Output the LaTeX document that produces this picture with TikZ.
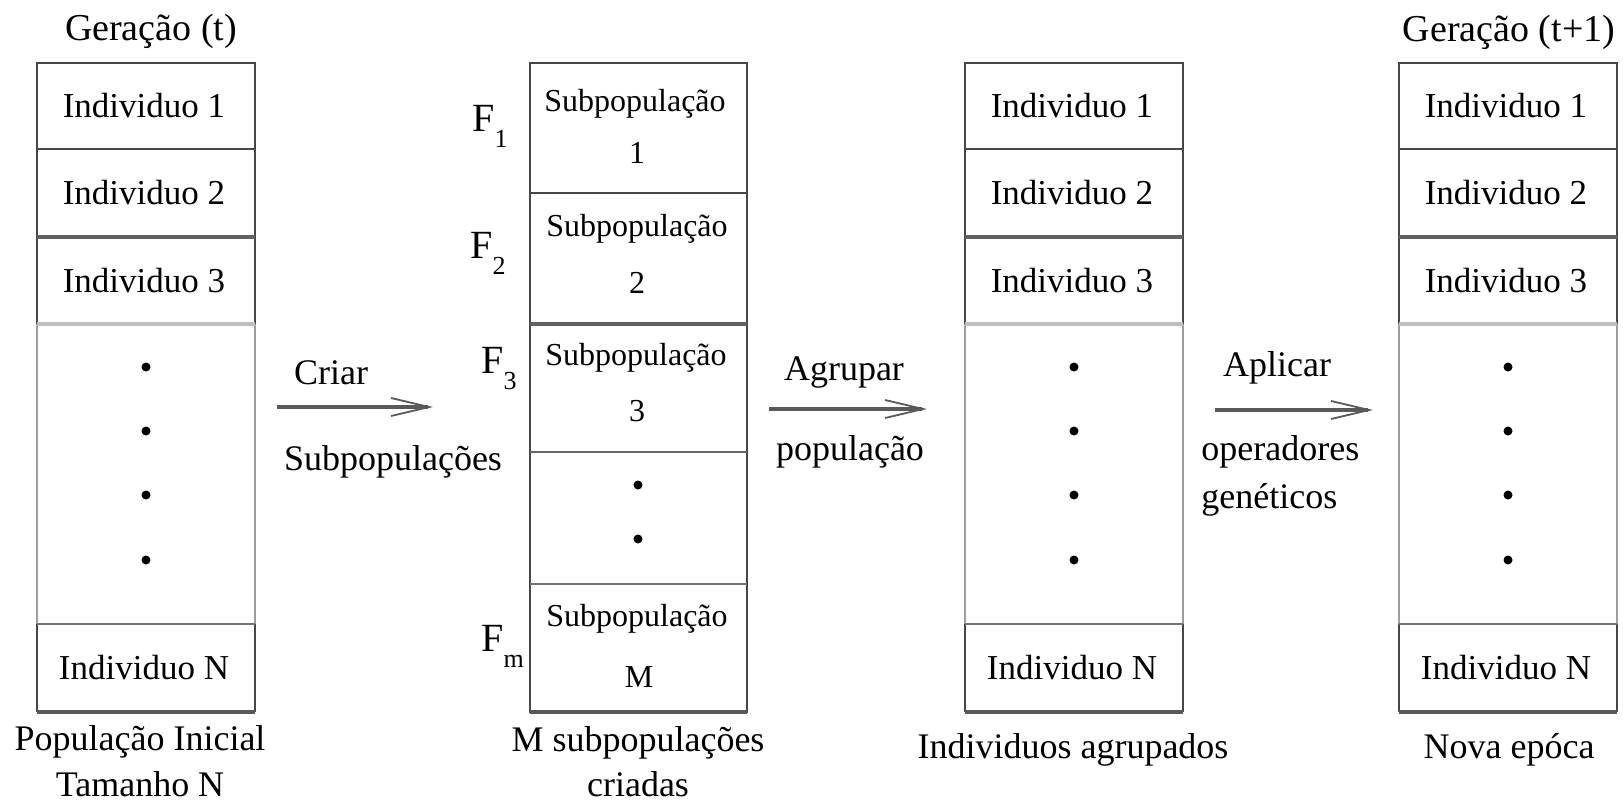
\documentclass[tikz,border=0pt]{standalone}
\usepackage{fontspec}
\setmainfont{Liberation Serif}
\usetikzlibrary{arrows.meta}
\newcommand{\Fsub}[1]{F\raisebox{-8pt}{\fontsize{13}{13}\selectfont #1}}
\begin{document}
\begin{tikzpicture}[x=0.5pt,y=-0.5pt,
  frame/.style={draw=black!72, line width=1pt},
  heavy/.style={draw=black!62, line width=1.7pt},
  light/.style={draw=black!25, line width=1.7pt},
  side/.style={draw=black!38, line width=0.8pt},
  mid/.style={draw=black!55, line width=1pt},
  thin/.style={draw=black!60, line width=0.7pt},
  bottomedge/.style={draw=black!65, line width=1.6pt},
  ind/.style={font=\fontsize{17.5}{21}\selectfont, inner sep=0pt},
  sub/.style={font=\fontsize{16}{19}\selectfont, inner sep=0pt},
  lab/.style={font=\fontsize{18}{22}\selectfont, inner sep=0pt},
  title/.style={font=\fontsize{19}{23}\selectfont, inner sep=0pt},
  flab/.style={font=\fontsize{20}{24}\selectfont, inner sep=0pt, anchor=base west},
  pdot/.style={circle, fill=black, inner sep=0pt, minimum size=4.5pt},
  flow/.style={draw=black!65, line width=2pt, -{Straight Barb[length=19pt,width=9pt,line width=0.9pt]}},
]
\useasboundingbox (0,0) rectangle (1623,804);

% ---------- individual boxes (1, 3, 4) ----------
\foreach \bx/\nm in {37/a, 965/c, 1399/d}{
  \draw[frame] (\bx,324) -- (\bx,63) -- (\bx+218,63) -- (\bx+218,324);
  \draw[frame] (\bx,624) -- (\bx,712);
  \draw[frame] (\bx+218,624) -- (\bx+218,712);
  \draw[bottomedge] (\bx,712) -- (\bx+218,712);
  \draw[side] (\bx,324) -- (\bx,624);
  \draw[side] (\bx+218,324) -- (\bx+218,624);
  \draw[frame] (\bx,149) -- (\bx+218,149);
  \draw[heavy] (\bx,237) -- (\bx+218,237);
  \draw[light] (\bx,324) -- (\bx+218,324);
  \draw[mid] (\bx,624) -- (\bx+218,624);
  \node[ind] (\nm i1) at (\bx+107,106) {Individuo 1};
  \node[ind] (\nm i2) at (\bx+107,193) {Individuo 2};
  \node[ind] (\nm i3) at (\bx+107,281) {Individuo 3};
  \node[ind] (\nm iN) at (\bx+107,668) {Individuo N};
  \node[pdot] (\nm d1) at (\bx+109,367) {};
  \node[pdot] (\nm d2) at (\bx+109,431) {};
  \node[pdot] (\nm d3) at (\bx+109,495) {};
  \node[pdot] (\nm d4) at (\bx+109,560) {};
}

% ---------- subpopulation box ----------
\draw[frame] (530,63) rectangle (747,712);
\draw[bottomedge] (530,712) -- (747,712);
\draw[frame] (530,193) -- (747,193);
\draw[heavy] (530,324) -- (747,324);
\draw[thin] (530,452) -- (747,452);
\draw[mid] (530,584) -- (747,584);
\node[sub] (s1) at (635,104) {Subpopulação};
\node[sub] (s1n) at (637,153) {1};
\node[sub] (s2) at (637,229) {Subpopulação};
\node[sub] (s2n) at (637,283) {2};
\node[sub] (s3) at (636,358) {Subpopulação};
\node[sub] (s3n) at (637,411) {3};
\node[sub] (sM) at (637,619) {Subpopulação};
\node[sub] (sMn) at (639,677) {M};
\node[pdot] (sd1) at (638,485) {};
\node[pdot] (sd2) at (638,539) {};

\node[flab] (f1) at (472,131) {\Fsub{1}};
\node[flab] (f2) at (470,258) {\Fsub{2}};
\node[flab] (f3) at (481,373) {\Fsub{3}};
\node[flab] (fm) at (481,651) {\Fsub{m}};

% ---------- titles and captions ----------
\node[title] (g0) at (151,31) {Geração (t)};
\node[title] (g1) at (1509,32) {Geração (t+1)};
\node[lab] (c1a) at (140,742) {População Inicial};
\node[lab] (c1b) at (140,784) {Tamanho N};
\node[lab] (c2a) at (638,743) {M subpopulações};
\node[lab] (c2b) at (638,784) {criadas};
\node[lab] (c3) at (1073,750) {Individuos agrupados};
\node[lab] (c4) at (1509,750) {Nova epóca};

% ---------- arrows ----------
\coordinate (a1s) at (277,407);
\coordinate (a1e) at (433,407);
\coordinate (a2s) at (769,409);
\coordinate (a2e) at (927,409);
\coordinate (a3s) at (1215,410);
\coordinate (a3e) at (1373,410);
\draw[flow] (a1s) -- (a1e);
\draw[flow] (a2s) -- (a2e);
\draw[flow] (a3s) -- (a3e);

\node[lab] (l1a) at (331,373) {Criar};
\node[lab] (l1b) at (393,462) {Subpopulações};
\node[lab] (l2a) at (844,372) {Agrupar};
\node[lab] (l2b) at (850,452) {população};
\node[lab] (l3a) at (1277,368) {Aplicar};
\node[lab, anchor=west] (l3b) at (1201,452) {operadores};
\node[lab, anchor=west] (l3c) at (1201,500) {genéticos};
\end{tikzpicture}
\end{document}
